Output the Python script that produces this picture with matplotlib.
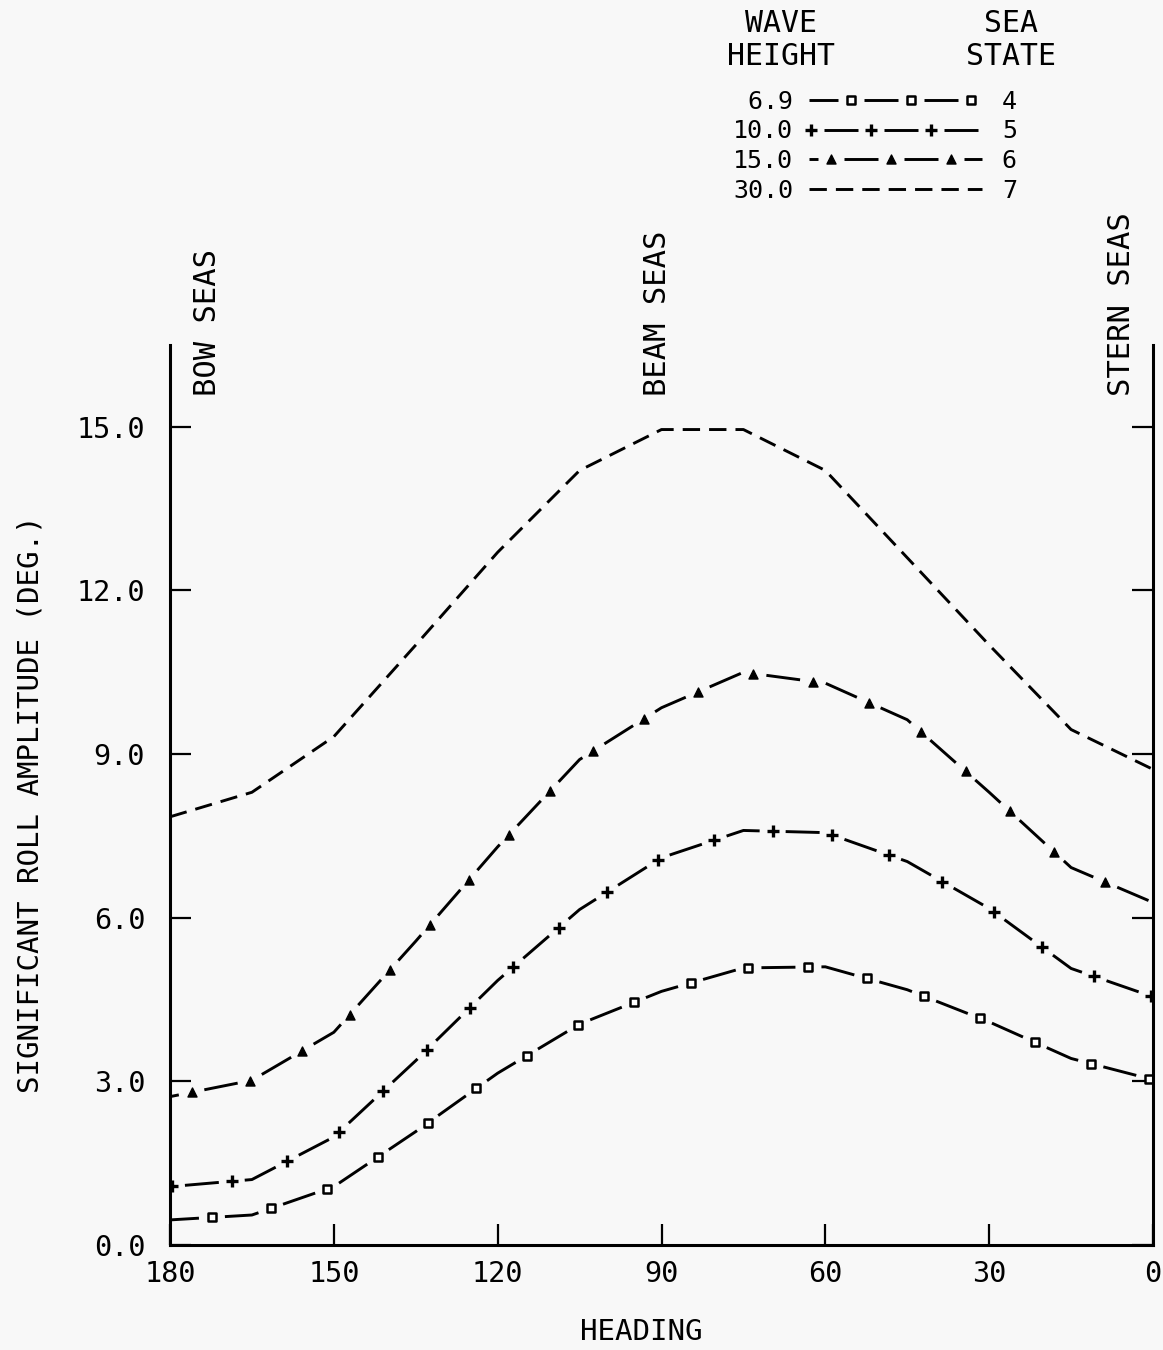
import numpy as np
import matplotlib
matplotlib.use("Agg")
import matplotlib.pyplot as plt
from matplotlib.lines import Line2D
from matplotlib.markers import MarkerStyle
from matplotlib.path import Path
from matplotlib.patheffects import AbstractPathEffect
import matplotlib.transforms as mtransforms
import matplotlib.colors as mcolors

# ---------------- data ----------------
heading = [180, 165, 150, 135, 120, 105, 90, 75, 60, 45, 30, 15, 0]
roll_ss4 = [0.46, 0.55, 1.07, 2.08, 3.15, 4.05, 4.65, 5.08, 5.10, 4.68, 4.09, 3.42, 3.03]
roll_ss5 = [1.07, 1.20, 1.98, 3.38, 4.85, 6.15, 7.10, 7.60, 7.56, 7.03, 6.17, 5.07, 4.55]
roll_ss6 = [2.72, 3.02, 3.90, 5.57, 7.30, 8.90, 9.85, 10.50, 10.30, 9.63, 8.30, 6.92, 6.28]
roll_ss7 = [7.85, 8.30, 9.32, 11.00, 12.70, 14.20, 14.95, 14.95, 14.20, 12.60, 11.00, 9.45, 8.72]

wave_heights = ["6.9", "10.0", "15.0", "30.0"]
sea_states = ["4", "5", "6", "7"]
legend_headings = ["WAVE\nHEIGHT", "SEA\nSTATE"]

x_ticks = [180, 150, 120, 90, 60, 30, 0]
y_ticks = [0.0, 3.0, 6.0, 9.0, 12.0, 15.0]

sector_labels = ["BOW SEAS", "BEAM SEAS", "STERN SEAS"]
sector_headings = [173.2, 90.8, 5.7]

plt.rcParams["font.family"] = ["DejaVu Sans Mono", "DejaVu Sans"]
plt.rcParams["lines.scale_dashes"] = False


class DashMarkEffect(AbstractPathEffect):
    """Draw a long-dash stroke with a marker centred in every gap."""

    def __init__(self, marker, period=60.0, gap=26.0, phase=0.0,
                 msize=7.0, mew=1.5, face="black"):
        super().__init__()
        self.marker = marker
        self.period = period
        self.gap = gap
        self.phase = phase
        self.msize = msize
        self.mew = mew
        self.face = face

    def draw_path(self, renderer, gc, tpath, affine, rgbFace=None):
        ppx = renderer.points_to_pixels(1.0)
        gc0 = renderer.new_gc()
        gc0.copy_properties(gc)
        gc0.set_capstyle("butt")
        on = (self.period - self.gap) / ppx
        off = self.gap / ppx
        offset = ((self.period - self.gap / 2.0 - self.phase) % self.period) / ppx
        gc0.set_dashes(offset, [on, off])
        renderer.draw_path(gc0, tpath, affine, None)
        gc0.restore()

        verts = affine.transform(tpath.vertices)
        if len(verts) < 2:
            return
        seg = np.hypot(*np.diff(verts, axis=0).T)
        cum = np.concatenate([[0.0], np.cumsum(seg)])
        s = np.arange(self.phase, cum[-1] + 1e-6, self.period)
        if len(s) == 0:
            return
        pts = np.column_stack([np.interp(s, cum, verts[:, 0]),
                               np.interp(s, cum, verts[:, 1])])
        ms = MarkerStyle(self.marker)
        mtr = ms.get_transform() + mtransforms.Affine2D().scale(
            renderer.points_to_pixels(self.msize))
        gc1 = renderer.new_gc()
        gc1.copy_properties(gc)
        gc1.set_dashes(0, None)
        gc1.set_linewidth(self.mew)
        gc1.set_capstyle("butt")
        face = None if self.face is None else mcolors.to_rgba(self.face)
        renderer.draw_markers(gc1, ms.get_path(), mtr, Path(pts),
                              mtransforms.IdentityTransform(), face)
        gc1.restore()


W, H = 1163, 1350
fig = plt.figure(figsize=(W / 100, H / 100), dpi=100)
bg = "#f8f8f8"
fig.patch.set_facecolor(bg)
ax = fig.add_axes([170 / W, 1 - 1245 / H, (1153 - 170) / W, (1245 - 345) / H])
ax.set_facecolor(bg)

lw = 2.1
l4, = ax.plot(heading, roll_ss4, color="black", lw=lw, linestyle="-",
              path_effects=[DashMarkEffect("s", phase=42, msize=6.0, mew=1.8, face="white")])
l5, = ax.plot(heading, roll_ss5, color="black", lw=lw, linestyle="-",
              path_effects=[DashMarkEffect("+", phase=2, msize=8.5, mew=2.4, face=None)])
l6, = ax.plot(heading, roll_ss6, color="black", lw=lw, linestyle="-",
              path_effects=[DashMarkEffect("^", phase=22, msize=6.5, mew=1.0, face="black")])
l7, = ax.plot(heading, roll_ss7, color="black", lw=lw,
              linestyle=(0, (12.5, 6.5)), dash_capstyle="butt")

ax.set_xlim(180, 0)
ax.set_ylim(0, 16.5)
ax.set_xticks(x_ticks)
ax.set_xticklabels([str(v) for v in x_ticks])
ax.set_yticks(y_ticks)
ax.set_yticklabels([f"{v:.1f}" for v in y_ticks])

ax.spines["top"].set_visible(False)
for sp in ("left", "right", "bottom"):
    ax.spines[sp].set_linewidth(2.2)
ax.tick_params(axis="both", direction="in", length=15, width=1.6,
               labelsize=20.5)
ax.tick_params(axis="y", left=True, right=True, labelright=False, pad=18)
ax.tick_params(axis="x", top=False, bottom=True, pad=11)

ax.set_ylabel("SIGNIFICANT ROLL AMPLITUDE (DEG.)", fontsize=21)
ax.yaxis.set_label_coords((45 - 170) / (1153 - 170), 0.49)
ax.set_xlabel("HEADING", fontsize=21)
ax.xaxis.set_label_coords((641 - 170) / (1153 - 170), (1245 - 1318) / 900)

for lab, h in zip(sector_labels, sector_headings):
    ax.text(h, 15.56, lab, rotation=90, ha="center", va="bottom",
            fontsize=22, clip_on=False)

# legend column headings
fig.text(781 / W, 1 - 9 / H, legend_headings[0], ha="center", va="top",
         multialignment="center", fontsize=21.5, linespacing=1.18)
fig.text(1011 / W, 1 - 9 / H, legend_headings[1], ha="center", va="top",
         multialignment="center", fontsize=21.5, linespacing=1.18)

blank = [Line2D([], [], linestyle="none") for _ in sea_states]
handles = [l4, l5, l6, l7] + blank
labels = [f"{w:>4}" for w in wave_heights] + sea_states
leg = fig.legend(handles, labels, ncol=2, markerfirst=False, frameon=False,
                 loc="upper left", bbox_to_anchor=(733 / W, 1 - 90 / H),
                 fontsize=18, handlelength=6.9,
                 handletextpad=0.65, columnspacing=0.8, labelspacing=0.22,
                 borderpad=0, borderaxespad=0)

fig.savefig("out.png", dpi=100, facecolor=fig.get_facecolor())
